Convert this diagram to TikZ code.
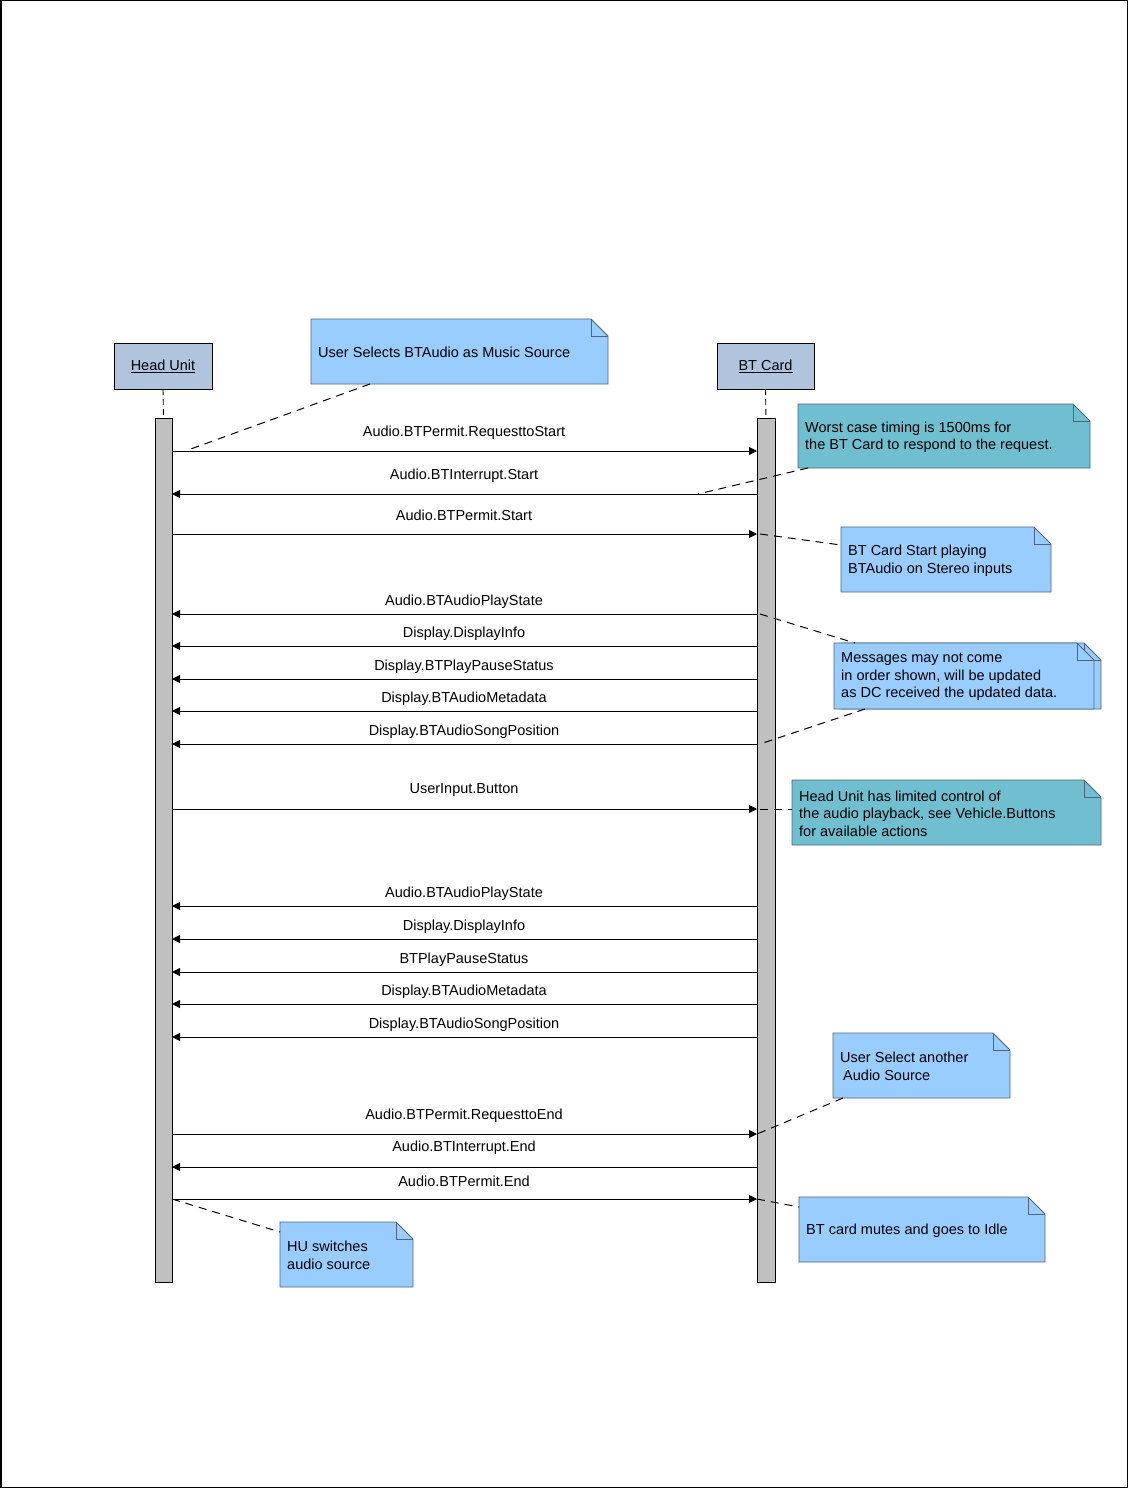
\documentclass[tikz,border=0pt]{standalone}
\usepackage{fontspec}
\setmainfont{Liberation Sans}
\usetikzlibrary{arrows.meta,calc}
\definecolor{hdr}{RGB}{176,196,222}
\definecolor{notelb}{RGB}{153,204,255}
\definecolor{noteteal}{RGB}{112,191,208}
\definecolor{noteedge}{RGB}{80,100,125}
\definecolor{bargray}{RGB}{192,192,192}
\newcommand\mknote[7]{%
  \pgfmathsetmacro\nw{#4-#2}\pgfmathsetmacro\nh{#5-#3}%
  \node[notebox, minimum width=\nw pt, minimum height=\nh pt] (#1) at ({(#2+#4)/2},{(#3+#5)/2}) {};
  \filldraw[fill=#6, draw=noteedge, line width=0.8pt] (#1.south west) -- (#1.north west) -- ($(#1.north east)+(-17,0)$) -- ($(#1.north east)+(0,17)$) -- (#1.south east) -- cycle;
  \draw[noteedge, line width=0.8pt] ($(#1.north east)+(-17,0)$) -- ($(#1.north east)+(-17,17)$) -- ($(#1.north east)+(0,17)$);
  \node[notetext] (#1t) at ($(#1.west)+(7,1)$) {#7};
}
\begin{document}
\begin{tikzpicture}[x=1pt,y=-1pt,
  font=\fontsize{14.5}{17.5}\selectfont,
  hdrbox/.style={draw=black, fill=hdr, line width=0.8pt, inner sep=0pt, outer sep=0pt},
  lifebar/.style={draw=black, fill=bargray, line width=0.8pt, inner sep=0pt, outer sep=0pt, minimum height=864pt},
  notebox/.style={inner sep=0pt, outer sep=0pt},
  notetext/.style={anchor=west, align=left, inner sep=0pt},
  msg/.style={line width=0.9pt, -{Triangle[length=8pt,width=8pt]}},
  lbl/.style={inner sep=0pt},
  life/.style={line width=0.9pt, dash pattern=on 6pt off 4pt},
  conn/.style={line width=1pt, dash pattern=on 8pt off 6pt}]
\useasboundingbox (0,0) rectangle (1128,1488);
\draw[line width=1.5pt] (0.75,0.75) rectangle (1127.25,1487.25);

% headers
\node[hdrbox, minimum width=98pt, minimum height=46pt] (hu) at (163,366) {\underline{Head Unit}};
\node[hdrbox, minimum width=97pt, minimum height=46pt] (bt) at (765.5,366) {\underline{BT Card}};
% activation bars
\node[lifebar, minimum width=17pt] (hubar) at (163.5,850) {};
\node[lifebar, minimum width=18pt] (btbar) at (766,850) {};
\draw[life] (hu.south) -- (hubar.north);
\draw[life] (bt.south) -- (btbar.north);

% messages
\foreach \y/\ly/\lab/\s/\e [count=\i] in {
  451/433/Audio.BTPermit.RequesttoStart/h/b,
  494/476/Audio.BTInterrupt.Start/b/h,
  534/515/Audio.BTPermit.Start/h/b,
  614/602/Audio.BTAudioPlayState/b/h,
  646/634/Display.DisplayInfo/b/h,
  679/667/Display.BTPlayPauseStatus/b/h,
  711/699/Display.BTAudioMetadata/b/h,
  744/732/Display.BTAudioSongPosition/b/h,
  809/790/UserInput.Button/h/b,
  906/894/Audio.BTAudioPlayState/b/h,
  939/927/Display.DisplayInfo/b/h,
  972/960/BTPlayPauseStatus/b/h,
  1004/992/Display.BTAudioMetadata/b/h,
  1037/1025/Display.BTAudioSongPosition/b/h,
  1134/1116/Audio.BTPermit.RequesttoEnd/h/b,
  1167/1148/Audio.BTInterrupt.End/b/h,
  1199/1181/Audio.BTPermit.End/h/b}
{
  \coordinate (h\i) at (hubar.east |- 0,\y);
  \coordinate (b\i) at (btbar.west |- 0,\y);
  \draw[msg] (\s\i) -- (\e\i);
  \node[lbl] (l\i) at (464,\ly) {\lab};
}

% notes
\mknote{n1}{311}{319}{608}{384}{notelb}{User Selects BTAudio as Music Source}
\mknote{n2}{798}{404}{1090}{468}{noteteal}{Worst case timing is 1500ms for\\the BT Card to respond to the request.}
\mknote{n3}{841}{527}{1051}{592}{notelb}{BT Card Start playing\\BTAudio on Stereo inputs}
\mknote{n4b}{841}{643}{1101}{709}{notelb}{}
\mknote{n4}{834}{643}{1094}{709}{notelb}{Messages may not come\\in order shown, will be updated\\as DC received the updated data.}
\mknote{n5}{792}{780}{1101}{845}{noteteal}{Head Unit has limited control of\\the audio playback, see Vehicle.Buttons\\for available actions}
\mknote{n6}{833}{1033}{1010}{1098}{notelb}{User Select another\\\hspace*{3pt}Audio Source}
\mknote{n7}{280}{1222}{413}{1287}{notelb}{HU switches\\audio source}
\mknote{n8}{799}{1197}{1045}{1262}{notelb}{BT card mutes and goes to Idle}

% note connectors
\coordinate (c1) at (188,450);
\coordinate (c2) at (698,494);
\draw[conn] ($(n1.south west)+(59,0)$) -- (c1);
\draw[conn] ($(n2.south west)+(10,0)$) -- (c2);
\draw[conn] ($(b3)+(3,0)$) -- ($(n3.north west)+(0,18)$);
\draw[conn] ($(b4)+(3,0)$) -- ($(n4.north west)+(21,0)$);
\draw[conn] ($(n4.south west)+(31,0)$) -- ($(b8)+(3,0)$);
\draw[conn] ($(b9)+(3,0)$) -- (n5.west |- b9);
\draw[conn] ($(n6.south west)+(10,0)$) -- (b15);
\draw[conn] (h17) -- ($(n7.north west)+(0,10)$);
\draw[conn] (b17) -- ($(n8.north west)+(0,10)$);
\end{tikzpicture}
\end{document}
